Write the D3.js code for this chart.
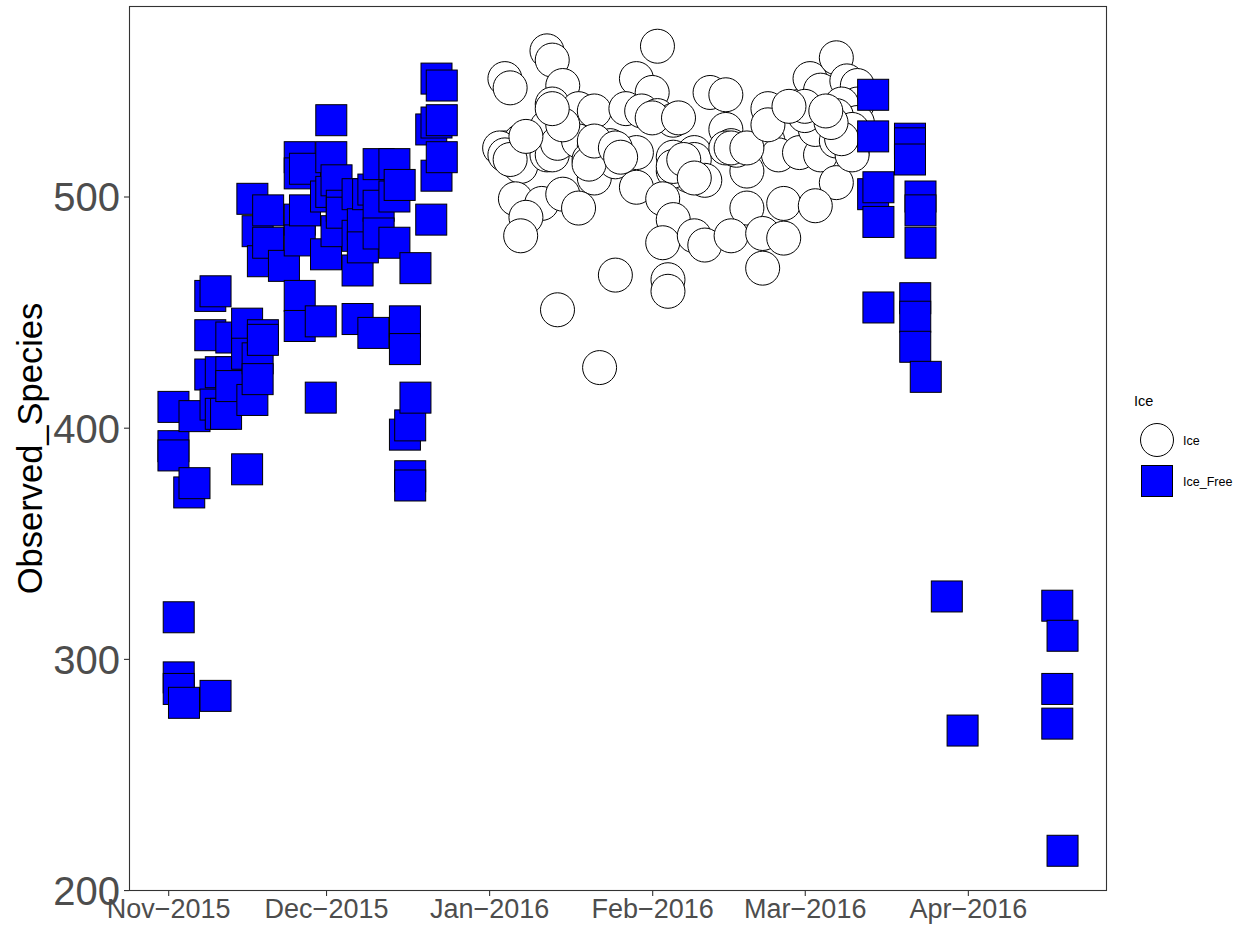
<!DOCTYPE html>
<html>
<head>
<meta charset="utf-8">
<script src="https://cdn.jsdelivr.net/npm/d3@7"></script>
<style>
  html, body { margin: 0; padding: 0; background: #fff; }
  svg { display: block; }
  text { font-family: "Liberation Sans", Arial, Helvetica, sans-serif; }
</style>
</head>
<body>
<svg id="chart" width="1248" height="930"></svg>
<script>
// ---- Data ----
const categories = ["Ice", "Ice_Free"];
const yTicks = [200, 300, 400, 500];
const xTickDates = ["2015-11-01", "2015-12-01", "2016-01-01", "2016-02-01", "2016-03-01", "2016-04-01"];

const iceObs = [
  ["2016-01-04",551],["2016-01-05",547],["2016-01-12",563],["2016-01-13",559],["2016-02-02",565],
  ["2016-01-29",551],["2016-02-01",545],["2016-01-15",548],["2016-01-13",540],["2016-01-18",538],
  ["2016-01-21",537],["2016-02-12",545],["2016-02-15",544],["2016-01-27",538],["2016-01-30",537],
  ["2016-02-02",535],["2016-02-05",533],["2016-02-23",538],["2016-02-29",539],["2016-03-02",551],
  ["2016-03-04",546],["2016-03-07",560],["2016-03-09",550],["2016-03-11",548],["2016-03-11",540],
  ["2016-01-04",521],["2016-01-07",524],["2016-01-06",515],["2016-01-07",513],["2016-01-12",530],
  ["2016-01-12",518],["2016-01-13",518],["2016-01-14",523],["2016-01-18",524],["2016-01-21",522],
  ["2016-01-20",516],["2016-01-21",508],["2016-01-24",522],["2016-01-25",515],["2016-01-29",519],
  ["2016-01-29",504],["2016-01-06",499],["2016-01-11",497],["2016-01-15",501],["2016-01-18",495],
  ["2016-01-08",491],["2016-01-07",483],["2016-02-05",517],["2016-02-09",519],["2016-02-09",516],
  ["2016-02-11",507],["2016-02-08",509],["2016-02-05",511],["2016-02-03",499],["2016-02-05",490],
  ["2016-02-03",480],["2016-02-09",483],["2016-02-11",479],["2016-02-15",529],["2016-02-16",522],
  ["2016-02-19",511],["2016-02-23",524],["2016-02-25",518],["2016-02-29",519],["2016-03-04",518],
  ["2016-03-07",506],["2016-03-10",519],["2016-03-10",527],["2016-03-03",529],["2016-03-01",535],
  ["2016-02-19",495],["2016-02-26",497],["2016-03-03",496],["2016-02-16",483],["2016-02-22",484],
  ["2016-02-26",482],["2016-02-22",469],["2016-01-25",466],["2016-02-04",464],["2016-02-04",459],
  ["2016-01-14",451],["2016-01-22",426],["2016-02-17",520],["2016-02-15",521],["2016-03-08",540],
  ["2016-03-07",524],["2016-03-09",525],["2016-03-10",518],["2016-03-11",532],["2016-01-03",521],
  ["2016-01-04",518],["2016-01-05",516],["2016-01-08",526],["2016-01-15",531],["2016-01-20",514],
  ["2016-01-21",524],["2016-01-25",521],["2016-01-26",517],["2016-02-01",534],["2016-02-05",513],
  ["2016-02-07",516],["2016-02-09",508],["2016-01-13",538],["2016-02-06",534],["2016-02-16",521],
  ["2016-02-19",521],["2016-02-23",531],["2016-03-01",539],["2016-03-07",535],["2016-03-10",529],
  ["2016-03-08",525],["2016-03-06",532],["2016-03-05",537],["2016-02-27",539]
];

const iceFreeObs = [
  ["2015-11-02",409],["2015-11-02",392],["2015-11-02",388],
  ["2015-11-03",318],["2015-11-03",292],["2015-11-03",287],
  ["2015-11-04",281],["2015-11-05",372],["2015-11-06",405],["2015-11-06",376],
  ["2015-11-09",457],["2015-11-09",440],["2015-11-09",423],
  ["2015-11-10",459],["2015-11-10",410],["2015-11-10",284],
  ["2015-11-11",424],["2015-11-11",406],["2015-11-12",406],
  ["2015-11-13",439],["2015-11-13",424],["2015-11-13",418],
  ["2015-11-16",445],["2015-11-16",432],["2015-11-16",382],
  ["2015-11-17",499],["2015-11-17",412],
  ["2015-11-18",485],["2015-11-18",430],["2015-11-18",421],
  ["2015-11-19",472],["2015-11-19",440],["2015-11-19",438],
  ["2015-11-20",494],["2015-11-20",480],["2015-11-23",470],
  ["2015-11-26",517],["2015-11-26",510],["2015-11-26",490],["2015-11-26",481],["2015-11-26",457],["2015-11-26",444],
  ["2015-11-27",512],["2015-11-27",494],["2015-11-30",446],["2015-11-30",413],
  ["2015-12-01",500],["2015-12-01",475],
  ["2015-12-02",533],["2015-12-02",517],["2015-12-02",502],
  ["2015-12-03",507],["2015-12-03",485],["2015-12-04",496],["2015-12-04",493],
  ["2015-12-07",501],["2015-12-07",483],["2015-12-07",468],["2015-12-07",447],
  ["2015-12-08",488],["2015-12-08",478],["2015-12-09",501],
  ["2015-12-10",503],["2015-12-10",441],
  ["2015-12-11",514],["2015-12-11",496],["2015-12-11",484],
  ["2015-12-14",514],["2015-12-14",500],["2015-12-14",480],["2015-12-15",505],
  ["2015-12-16",446],["2015-12-16",434],["2015-12-16",397],
  ["2015-12-17",401],["2015-12-17",379],["2015-12-17",375],
  ["2015-12-18",469],["2015-12-18",413],["2015-12-21",529],["2015-12-21",490],
  ["2015-12-22",551],["2015-12-22",532],["2015-12-22",509],
  ["2015-12-23",548],["2015-12-23",533],["2015-12-23",517],
  ["2016-03-14",544],["2016-03-14",526],["2016-03-14",501],
  ["2016-03-15",504],["2016-03-15",489],["2016-03-15",452],
  ["2016-03-21",525],["2016-03-21",523],["2016-03-21",516],
  ["2016-03-22",456],["2016-03-22",448],["2016-03-22",435],
  ["2016-03-23",500],["2016-03-23",494],["2016-03-23",480],
  ["2016-03-24",422],["2016-03-28",327],["2016-03-31",269],
  ["2016-04-18",323],["2016-04-18",287],["2016-04-18",272],
  ["2016-04-19",310],["2016-04-19",217]
];

// ---- Layout ----
const svg = d3.select("#chart");
const panel = { left: 129, top: 6, right: 1107, bottom: 891 };
const parse = d3.utcParse("%Y-%m-%d");
const fontFam = '"Liberation Sans", Arial, Helvetica, sans-serif';

const all = iceObs.concat(iceFreeObs);
const tExt = d3.extent(all, d => parse(d[0]).getTime());
const vExt = d3.extent(all, d => d[1]);
const tPad = (tExt[1] - tExt[0]) * 0.05;
const vPad = (vExt[1] - vExt[0]) * 0.05;

const x = d3.scaleUtc()
  .domain([new Date(tExt[0] - tPad), new Date(tExt[1] + tPad)])
  .range([panel.left, panel.right]);
const y = d3.scaleLinear()
  .domain([vExt[0] - vPad, vExt[1] + vPad])
  .range([panel.bottom, panel.top]);

const fillOf = { "Ice": "#FFFFFF", "Ice_Free": "#0000FF" };

// points: circles (Ice) first, then squares (Ice_Free)
const gPts = svg.append("g");
gPts.selectAll("circle.ice").data(iceObs).enter().append("circle")
  .attr("class", "ice")
  .attr("cx", d => x(parse(d[0])))
  .attr("cy", d => y(d[1]))
  .attr("r", 17)
  .attr("fill", fillOf["Ice"])
  .attr("stroke", "#000")
  .attr("stroke-width", 1);

const sq = 31;
gPts.selectAll("rect.free").data(iceFreeObs).enter().append("rect")
  .attr("class", "free")
  .attr("x", d => x(parse(d[0])) - sq / 2)
  .attr("y", d => y(d[1]) - sq / 2)
  .attr("width", sq)
  .attr("height", sq)
  .attr("fill", fillOf["Ice_Free"])
  .attr("stroke", "#000")
  .attr("stroke-width", 1);

// panel border
svg.append("rect")
  .attr("x", panel.left + 0.5).attr("y", panel.top + 0.5)
  .attr("width", panel.right - panel.left - 1)
  .attr("height", panel.bottom - panel.top - 1)
  .attr("fill", "none").attr("stroke", "#333333").attr("stroke-width", 1.1);

// y axis
const yAxis = d3.axisLeft(y).tickValues(yTicks).tickSize(5).tickPadding(4);
const gy = svg.append("g").attr("transform", `translate(${panel.left},0)`).call(yAxis);
gy.select(".domain").remove();
gy.selectAll(".tick line").attr("stroke", "#333333").attr("stroke-width", 1.1);
gy.selectAll(".tick text")
  .attr("fill", "#4D4D4D")
  .style("font-family", fontFam)
  .style("font-size", "40px")
  .attr("dy", "0.36em");

// x axis
const fmt = d3.utcFormat("%b");
const fmtY = d3.utcFormat("%Y");
const xAxis = d3.axisBottom(x)
  .tickValues(xTickDates.map(parse))
  .tickSize(5).tickPadding(3)
  .tickFormat(d => fmt(d) + "\u2212" + fmtY(d));
const gx = svg.append("g").attr("transform", `translate(0,${panel.bottom})`).call(xAxis);
gx.select(".domain").remove();
gx.selectAll(".tick line").attr("stroke", "#333333").attr("stroke-width", 1.1);
gx.selectAll(".tick text")
  .attr("fill", "#4D4D4D")
  .style("font-family", fontFam)
  .style("font-size", "27px")
  .attr("dy", "0.72em");

// y title
svg.append("text")
  .attr("transform", `translate(41.5,${(panel.top + panel.bottom) / 2}) rotate(-90)`)
  .attr("text-anchor", "middle")
  .style("font-family", fontFam)
  .style("font-size", "34.5px")
  .attr("fill", "#000")
  .text("Observed_Species");

// legend
const lg = svg.append("g").attr("transform", "translate(1134,0)");
lg.append("text").attr("x", 0).attr("y", 406)
  .style("font-family", fontFam).style("font-size", "14.5px").attr("fill", "#000")
  .text("Ice");
const keyY = d3.scalePoint().domain(categories).range([440, 481]);
const keyX = 23;
categories.forEach(c => {
  if (c === "Ice") {
    lg.append("circle").attr("cx", keyX).attr("cy", keyY(c)).attr("r", 16.5)
      .attr("fill", fillOf[c]).attr("stroke", "#000").attr("stroke-width", 1);
  } else {
    lg.append("rect").attr("x", keyX - 15.5).attr("y", keyY(c) - 15.5)
      .attr("width", 31).attr("height", 31)
      .attr("fill", fillOf[c]).attr("stroke", "#000").attr("stroke-width", 1);
  }
  lg.append("text").attr("x", 49).attr("y", keyY(c)).attr("dy", "0.36em")
    .style("font-family", fontFam).style("font-size", "12.5px").attr("fill", "#000")
    .text(c);
});
</script>
</body>
</html>
